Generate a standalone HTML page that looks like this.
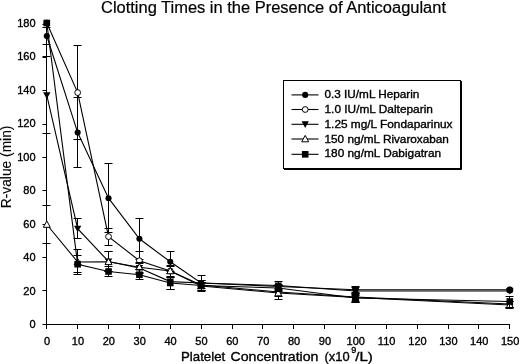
<!DOCTYPE html>
<html><head><meta charset="utf-8"><style>
html,body{margin:0;padding:0;background:#fff;}
svg{display:block;will-change:transform;font-family:"Liberation Sans",sans-serif;}
text{stroke:#000;stroke-width:0.35px;}
</style></head><body>
<svg width="520" height="364" viewBox="0 0 520 364">
<rect width="520" height="364" fill="#fff"/>
<text x="101" y="12.6" font-size="16" style="stroke-width:0.2px" textLength="345" lengthAdjust="spacingAndGlyphs">Clotting Times in the Presence of Anticoagulant</text>
<text transform="translate(11.3,208.2) rotate(-90)" font-size="14" style="stroke-width:0.1px" textLength="82.6" lengthAdjust="spacingAndGlyphs">R-value (min)</text>
<g font-size="13">
<text x="181" y="360.5" textLength="44.2" lengthAdjust="spacingAndGlyphs">Platelet</text>
<text x="230.6" y="360.5" textLength="87.8" lengthAdjust="spacingAndGlyphs">Concentration</text>
<text x="324.6" y="360.5" textLength="25" lengthAdjust="spacingAndGlyphs">(x10</text>
<text x="351.3" y="353.3" font-size="9">9</text>
<text x="355.3" y="360.5" textLength="17.6" lengthAdjust="spacingAndGlyphs">/L)</text>
</g>
<g font-size="11">
<text x="35.6" y="328" text-anchor="end">0</text><text x="35.6" y="295" text-anchor="end">20</text><text x="35.6" y="261" text-anchor="end">40</text><text x="35.6" y="228" text-anchor="end">60</text><text x="35.6" y="194" text-anchor="end">80</text><text x="35.6" y="161" text-anchor="end">100</text><text x="35.6" y="127" text-anchor="end">120</text><text x="35.6" y="94" text-anchor="end">140</text><text x="35.6" y="60" text-anchor="end">160</text><text x="35.6" y="27" text-anchor="end">180</text><text x="47.10" y="345" text-anchor="middle">0</text><text x="77.97" y="345" text-anchor="middle">10</text><text x="108.83" y="345" text-anchor="middle">20</text><text x="139.70" y="345" text-anchor="middle">30</text><text x="170.57" y="345" text-anchor="middle">40</text><text x="201.43" y="345" text-anchor="middle">50</text><text x="232.30" y="345" text-anchor="middle">60</text><text x="263.17" y="345" text-anchor="middle">70</text><text x="294.03" y="345" text-anchor="middle">80</text><text x="324.90" y="345" text-anchor="middle">90</text><text x="355.77" y="345" text-anchor="middle">100</text><text x="386.63" y="345" text-anchor="middle">110</text><text x="417.50" y="345" text-anchor="middle">120</text><text x="448.37" y="345" text-anchor="middle">130</text><text x="479.23" y="345" text-anchor="middle">140</text><text x="510.10" y="345" text-anchor="middle">150</text>
</g>
<path d="M46.5,24V324.5H510" fill="none" stroke="#000" stroke-width="1"/><path d="M42.5,324.50H46.5M42.5,290.50H46.5M42.5,257.50H46.5M42.5,224.50H46.5M42.5,190.50H46.5M42.5,157.50H46.5M42.5,124.50H46.5M42.5,90.50H46.5M42.5,57.50H46.5M42.5,24.50H46.5M46.50,324.5V329M77.50,324.5V329M108.50,324.5V329M139.50,324.5V329M170.50,324.5V329M201.50,324.5V329M232.50,324.5V329M262.50,324.5V329M293.50,324.5V329M324.50,324.5V329M355.50,324.5V329M386.50,324.5V329M417.50,324.5V329M448.50,324.5V329M478.50,324.5V329M509.50,324.5V329" fill="none" stroke="#000" stroke-width="1"/>
<polyline points="46.80,36.00 77.67,132.60 108.53,198.20 139.40,238.80 170.27,261.80 201.13,283.00 278.30,286.50 355.47,289.80 509.80,289.80" fill="none" stroke="#000" stroke-width="1.1"/><path d="M46.50,27.50V44.50M42.50,27.50H50.50M42.50,44.50H50.50M77.50,97.50V167.50M73.50,97.50H81.50M73.50,167.50H81.50M108.50,163.50V232.50M104.50,163.50H112.50M104.50,232.50H112.50M139.50,218.50V259.50M135.50,218.50H143.50M135.50,259.50H143.50M170.50,251.50V271.50M166.50,251.50H174.50M166.50,271.50H174.50M201.50,275.50V291.50M197.50,275.50H205.50M197.50,291.50H205.50M278.50,284.50V288.50M274.50,284.50H282.50M274.50,288.50H282.50M355.50,286.50V293.50M351.50,286.50H359.50M351.50,293.50H359.50" fill="none" stroke="#000" stroke-width="1"/><circle cx="46.80" cy="36.00" r="3.05" fill="#000"/><circle cx="77.67" cy="132.60" r="3.05" fill="#000"/><circle cx="108.53" cy="198.20" r="3.05" fill="#000"/><circle cx="139.40" cy="238.80" r="3.05" fill="#000"/><circle cx="170.27" cy="261.80" r="3.05" fill="#000"/><circle cx="201.13" cy="283.00" r="3.05" fill="#000"/><circle cx="278.30" cy="286.50" r="3.05" fill="#000"/><circle cx="355.47" cy="289.80" r="3.05" fill="#000"/><circle cx="509.80" cy="289.80" r="3.05" fill="#000"/><polyline points="46.80,23.00 77.67,92.60 108.53,236.60 139.40,260.70 170.27,271.00 201.13,285.00 278.30,292.00 355.47,297.00 509.80,304.00" fill="none" stroke="#000" stroke-width="1.1"/><path d="M77.50,45.50V139.50M73.50,45.50H81.50M73.50,139.50H81.50M108.50,228.50V245.50M104.50,228.50H112.50M104.50,245.50H112.50M139.50,251.50V269.50M135.50,251.50H143.50M135.50,269.50H143.50M170.50,265.50V277.50M166.50,265.50H174.50M166.50,277.50H174.50M201.50,282.50V288.50M197.50,282.50H205.50M197.50,288.50H205.50M278.50,285.50V299.50M274.50,285.50H282.50M274.50,299.50H282.50M355.50,292.50V302.50M351.50,292.50H359.50M351.50,302.50H359.50M509.50,301.50V307.50M505.50,301.50H513.50M505.50,307.50H513.50" fill="none" stroke="#000" stroke-width="1"/><circle cx="46.80" cy="23.00" r="2.9" fill="#fff" stroke="#000" stroke-width="1"/><circle cx="77.67" cy="92.60" r="2.9" fill="#fff" stroke="#000" stroke-width="1"/><circle cx="108.53" cy="236.60" r="2.9" fill="#fff" stroke="#000" stroke-width="1"/><circle cx="139.40" cy="260.70" r="2.9" fill="#fff" stroke="#000" stroke-width="1"/><circle cx="170.27" cy="271.00" r="2.9" fill="#fff" stroke="#000" stroke-width="1"/><circle cx="201.13" cy="285.00" r="2.9" fill="#fff" stroke="#000" stroke-width="1"/><circle cx="278.30" cy="292.00" r="2.9" fill="#fff" stroke="#000" stroke-width="1"/><circle cx="355.47" cy="297.00" r="2.9" fill="#fff" stroke="#000" stroke-width="1"/><circle cx="509.80" cy="304.00" r="2.9" fill="#fff" stroke="#000" stroke-width="1"/><polyline points="46.80,95.30 77.67,228.70 108.53,261.50 139.40,268.00 170.27,281.60 201.13,283.00 278.30,285.50 355.47,291.00 509.80,291.00" fill="none" stroke="#000" stroke-width="1.1"/><path d="M46.50,56.50V133.50M42.50,56.50H50.50M42.50,133.50H50.50M77.50,218.50V238.50M73.50,218.50H81.50M73.50,238.50H81.50M108.50,251.50V271.50M104.50,251.50H112.50M104.50,271.50H112.50M139.50,263.50V273.50M135.50,263.50H143.50M135.50,273.50H143.50M170.50,273.50V289.50M166.50,273.50H174.50M166.50,289.50H174.50M201.50,280.50V286.50M197.50,280.50H205.50M197.50,286.50H205.50M278.50,281.50V289.50M274.50,281.50H282.50M274.50,289.50H282.50M355.50,287.50V295.50M351.50,287.50H359.50M351.50,295.50H359.50" fill="none" stroke="#000" stroke-width="1"/><path d="M43.10,92.30L50.50,92.30L46.80,98.90Z" fill="#000"/><path d="M73.97,225.70L81.37,225.70L77.67,232.30Z" fill="#000"/><path d="M104.83,258.50L112.23,258.50L108.53,265.10Z" fill="#000"/><path d="M135.70,265.00L143.10,265.00L139.40,271.60Z" fill="#000"/><path d="M166.57,278.60L173.97,278.60L170.27,285.20Z" fill="#000"/><path d="M197.43,280.00L204.83,280.00L201.13,286.60Z" fill="#000"/><path d="M274.60,282.50L282.00,282.50L278.30,289.10Z" fill="#000"/><path d="M351.77,288.00L359.17,288.00L355.47,294.60Z" fill="#000"/><path d="M506.10,288.00L513.50,288.00L509.80,294.60Z" fill="#000"/><polyline points="46.80,224.50 77.67,262.00 108.53,261.80 139.40,267.20 170.27,271.00 201.13,286.00 278.30,293.00 355.47,297.50 509.80,305.00" fill="none" stroke="#000" stroke-width="1.1"/><path d="M46.50,205.50V243.50M42.50,205.50H50.50M42.50,243.50H50.50M77.50,249.50V274.50M73.50,249.50H81.50M73.50,274.50H81.50M108.50,251.50V271.50M104.50,251.50H112.50M104.50,271.50H112.50M139.50,262.50V272.50M135.50,262.50H143.50M135.50,272.50H143.50M170.50,266.50V276.50M166.50,266.50H174.50M166.50,276.50H174.50M201.50,282.50V290.50M197.50,282.50H205.50M197.50,290.50H205.50M278.50,290.50V296.50M274.50,290.50H282.50M274.50,296.50H282.50M355.50,293.50V301.50M351.50,293.50H359.50M351.50,301.50H359.50M509.50,301.50V308.50M505.50,301.50H513.50M505.50,308.50H513.50" fill="none" stroke="#000" stroke-width="1"/><path d="M46.80,220.90L50.30,227.30L43.30,227.30Z" fill="#fff" stroke="#000" stroke-width="1"/><path d="M77.67,258.40L81.17,264.80L74.17,264.80Z" fill="#fff" stroke="#000" stroke-width="1"/><path d="M108.53,258.20L112.03,264.60L105.03,264.60Z" fill="#fff" stroke="#000" stroke-width="1"/><path d="M139.40,263.60L142.90,270.00L135.90,270.00Z" fill="#fff" stroke="#000" stroke-width="1"/><path d="M170.27,267.40L173.77,273.80L166.77,273.80Z" fill="#fff" stroke="#000" stroke-width="1"/><path d="M201.13,282.40L204.63,288.80L197.63,288.80Z" fill="#fff" stroke="#000" stroke-width="1"/><path d="M278.30,289.40L281.80,295.80L274.80,295.80Z" fill="#fff" stroke="#000" stroke-width="1"/><path d="M355.47,293.90L358.97,300.30L351.97,300.30Z" fill="#fff" stroke="#000" stroke-width="1"/><path d="M509.80,301.40L513.30,307.80L506.30,307.80Z" fill="#fff" stroke="#000" stroke-width="1"/><polyline points="46.80,23.00 77.67,264.20 108.53,271.50 139.40,274.70 170.27,283.00 201.13,285.50 278.30,288.00 355.47,298.00 509.80,301.50" fill="none" stroke="#000" stroke-width="1.1"/><path d="M77.50,255.50V272.50M73.50,255.50H81.50M73.50,272.50H81.50M108.50,266.50V276.50M104.50,266.50H112.50M104.50,276.50H112.50M139.50,269.50V279.50M135.50,269.50H143.50M135.50,279.50H143.50M170.50,277.50V289.50M166.50,277.50H174.50M166.50,289.50H174.50M201.50,280.50V290.50M197.50,280.50H205.50M197.50,290.50H205.50M278.50,285.50V291.50M274.50,285.50H282.50M274.50,291.50H282.50M355.50,294.50V302.50M351.50,294.50H359.50M351.50,302.50H359.50M509.50,296.50V307.50M505.50,296.50H513.50M505.50,307.50H513.50" fill="none" stroke="#000" stroke-width="1"/><rect x="43.50" y="19.70" width="6.6" height="6.6" fill="#000"/><rect x="74.37" y="260.90" width="6.6" height="6.6" fill="#000"/><rect x="105.23" y="268.20" width="6.6" height="6.6" fill="#000"/><rect x="136.10" y="271.40" width="6.6" height="6.6" fill="#000"/><rect x="166.97" y="279.70" width="6.6" height="6.6" fill="#000"/><rect x="197.83" y="282.20" width="6.6" height="6.6" fill="#000"/><rect x="275.00" y="284.70" width="6.6" height="6.6" fill="#000"/><rect x="352.17" y="294.70" width="6.6" height="6.6" fill="#000"/><rect x="506.50" y="298.20" width="6.6" height="6.6" fill="#000"/><circle cx="509.80" cy="290" r="3.5" fill="#000"/>
<g font-size="11">
<rect x="283.5" y="80.5" width="177" height="88" fill="#fff" stroke="#000" stroke-width="1"/><path d="M461.5,81V169.5H284" fill="none" stroke="#000" stroke-width="1"/><path d="M291.5,94.90H318.5" stroke="#000" stroke-width="1.1"/><circle cx="305.20" cy="94.90" r="3.05" fill="#000"/><text x="324.5" y="98.30" textLength="94.9" lengthAdjust="spacingAndGlyphs">0.3 IU/mL Heparin</text><path d="M291.5,109.50H318.5" stroke="#000" stroke-width="1.1"/><circle cx="305.20" cy="109.50" r="2.9" fill="#fff" stroke="#000" stroke-width="1"/><text x="324.5" y="113.40" textLength="108.4" lengthAdjust="spacingAndGlyphs">1.0 IU/mL Dalteparin</text><path d="M291.5,124.30H318.5" stroke="#000" stroke-width="1.1"/><path d="M301.50,121.30L308.90,121.30L305.20,127.90Z" fill="#000"/><text x="324.5" y="127.80" textLength="128.0" lengthAdjust="spacingAndGlyphs">1.25 mg/L Fondaparinux</text><path d="M291.5,139.00H318.5" stroke="#000" stroke-width="1.1"/><path d="M305.20,135.40L308.70,141.80L301.70,141.80Z" fill="#fff" stroke="#000" stroke-width="1"/><text x="324.5" y="142.60" textLength="124.4" lengthAdjust="spacingAndGlyphs">150 ng/mL Rivaroxaban</text><path d="M291.5,154.30H318.5" stroke="#000" stroke-width="1.1"/><rect x="301.90" y="151.00" width="6.6" height="6.6" fill="#000"/><text x="324.5" y="157.40" textLength="116.6" lengthAdjust="spacingAndGlyphs">180 ng/mL Dabigatran</text>
</g>
</svg>
</body></html>
